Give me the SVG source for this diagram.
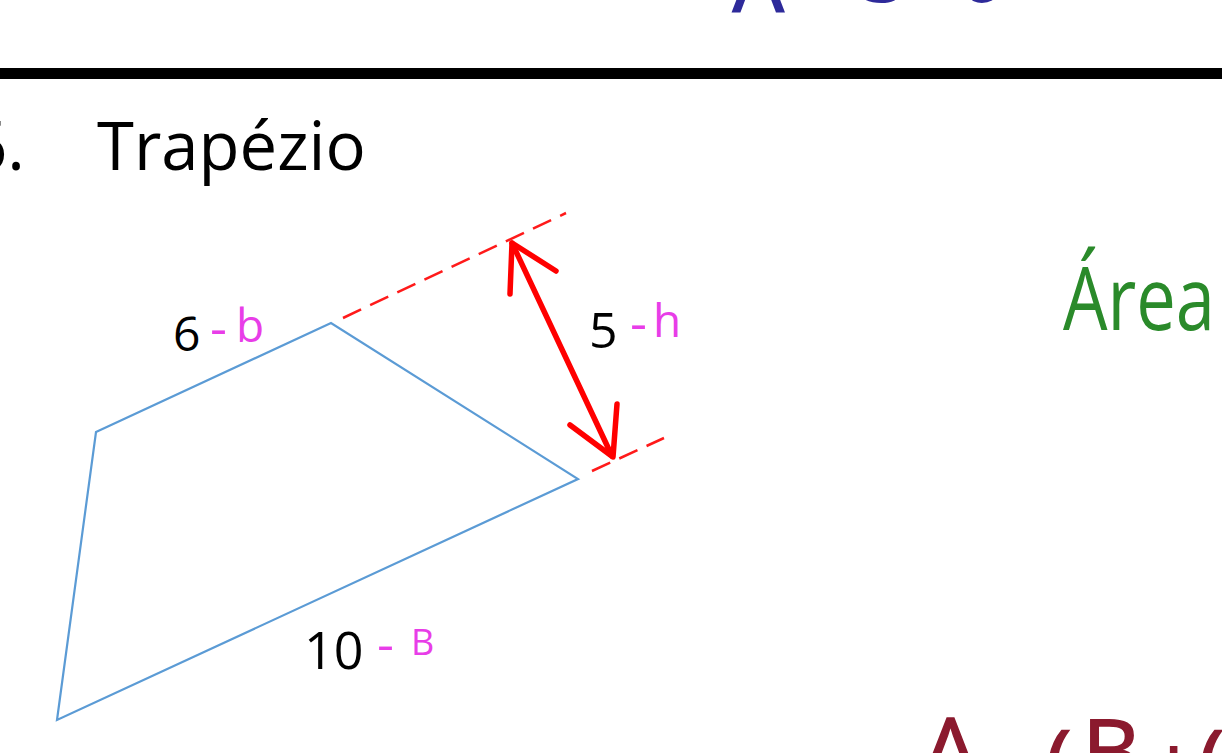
<svg xmlns="http://www.w3.org/2000/svg" width="1222" height="753" viewBox="0 0 1222 753">
<defs>
<style>
.lbl{font-family:"Open Sans","Liberation Sans",sans-serif;fill:#000}
.mag{font-family:"Open Sans","Liberation Sans",sans-serif;fill:#e83de8}
.dash{stroke:#ff1a1a;stroke-width:2.5;stroke-dasharray:20 10;fill:none}
.arr{stroke:#ff0000;stroke-width:5.5;fill:none;stroke-linecap:round;stroke-linejoin:round}
</style>
</defs>
<rect width="1222" height="753" fill="#ffffff"/>
<g id="prev-formula">
<text font-family="Open Sans, Liberation Sans, sans-serif" font-size="80" fill="#2e2a9a" stroke="#2e2a9a" stroke-width="2"><tspan x="733" y="11">A</tspan><tspan x="862" y="1">3</tspan><tspan x="958" y="1">6</tspan></text>
</g>
<rect id="divider" x="0" y="68" width="1222" height="11" fill="#000"/>
<g id="title">
<text class="lbl" x="-31" y="170" font-size="67">6.</text>
<text class="lbl" x="97" y="170" font-size="67">Trapézio</text>
</g>
<g id="trapezoid">
<polygon points="96,432 331,323 578,479 57,720" fill="none" stroke="#5b9bd5" stroke-width="2.2" stroke-linejoin="miter"/>
</g>
<g id="connectors">
<line class="dash" x1="343" y1="318" x2="566" y2="213"/>
<line class="dash" x1="592" y1="471" x2="664" y2="438"/>
<line class="arr" x1="512" y1="243" x2="612" y2="456"/>
<polyline class="arr" points="510,294 512,243 556,271"/>
<polyline class="arr" points="617,404 613,457 570,425"/>
</g>
<g id="label-b">
<text class="lbl" x="173" y="351" font-size="48">6</text>
<text class="mag" x="210" y="346" font-size="50" textLength="17" lengthAdjust="spacingAndGlyphs">-</text>
<text class="mag" x="236" y="342" font-size="46">b</text>
</g>
<g id="label-h">
<text class="lbl" x="589" y="348" font-size="50">5</text>
<text class="mag" x="630" y="341" font-size="50" textLength="17" lengthAdjust="spacingAndGlyphs">-</text>
<text class="mag" x="653" y="337" font-size="46">h</text>
</g>
<g id="label-B">
<text class="lbl" x="304" y="669" font-size="52">10</text>
<text class="mag" x="377" y="661" font-size="48" textLength="17" lengthAdjust="spacingAndGlyphs">-</text>
<text class="mag" x="411" y="655" font-size="36">B</text>
</g>
<g id="area-title">
<text x="1063" y="330" font-family="Open Sans, Liberation Sans, sans-serif" font-size="88" fill="#2a8a2a" textLength="152" lengthAdjust="spacingAndGlyphs">Área</text>
</g>
<g id="area-formula">
<text font-family="Open Sans, Liberation Sans, sans-serif" font-size="90" fill="#8b1a2e" stroke="#8b1a2e" stroke-width="1.5"><tspan x="922" y="782">A</tspan><tspan x="1045" y="795">(</tspan><tspan x="1082" y="784">B</tspan><tspan x="1148" y="800">+</tspan><tspan x="1198" y="795">(</tspan></text>
</g>
</svg>
